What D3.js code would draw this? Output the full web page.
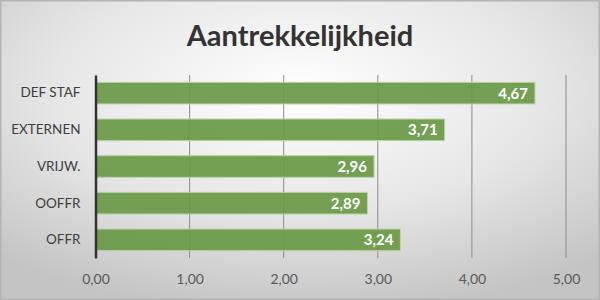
<!DOCTYPE html>
<html>
<head>
<meta charset="utf-8">
<script src="https://cdn.jsdelivr.net/npm/d3@7"></script>
<style>
  body { margin: 0; }
  svg { display: block; }
</style>
</head>
<body>
<div id="chart"></div>
<script>
var categories = ["DEF STAF", "EXTERNEN", "VRIJW.", "OOFFR", "OFFR"];
var values = [4.67, 3.71, 2.96, 2.89, 3.24];
var xTicks = [0, 1, 2, 3, 4, 5];
var title = "Aantrekkelijkheid";

var width = 600, height = 300;
var margin = { top: 75, right: 34, bottom: 42, left: 95.5 };
var font = "Lato, 'Open Sans', sans-serif";

var svg = d3.select("#chart")
    .append("svg")
    .attr("width", width)
    .attr("height", height);

// background: light centre, grey edges
var defs = svg.append("defs");
var grad = defs.append("radialGradient")
    .attr("id", "bg")
    .attr("cx", "50%").attr("cy", "30%")
    .attr("r", "75%");
grad.append("stop").attr("offset", "0%").attr("stop-color", "#ffffff");
grad.append("stop").attr("offset", "55%").attr("stop-color", "#e6e6e6");
grad.append("stop").attr("offset", "100%").attr("stop-color", "#c4c4c4");

svg.append("rect")
    .attr("x", 0.5).attr("y", 0.5)
    .attr("width", width - 1).attr("height", height - 1)
    .attr("fill", "url(#bg)")
    .attr("stroke", "#b4b4b4")
    .attr("stroke-width", 2);

svg.append("text")
    .attr("x", 300)
    .attr("y", 45.5)
    .attr("text-anchor", "middle")
    .attr("font-family", font)
    .attr("font-weight", "bold")
    .attr("font-size", 29)
    .attr("fill", "#333333")
    .text(title);

var x = d3.scaleLinear()
    .domain([0, 5])
    .range([margin.left, width - margin.right]);

var y = d3.scaleBand()
    .domain(categories)
    .range([margin.top, height - margin.bottom])
    .paddingInner(0.41)
    .paddingOuter(0.2);

// vertical gridlines
svg.append("g")
    .selectAll("line")
    .data(xTicks.slice(1))
    .join("line")
    .attr("x1", d => x(d)).attr("x2", d => x(d))
    .attr("y1", margin.top).attr("y2", height - margin.bottom)
    .attr("stroke", "#8c8c8c")
    .attr("stroke-width", 1);

// bars
svg.append("g")
    .selectAll("rect")
    .data(values)
    .join("rect")
    .attr("x", x(0))
    .attr("y", (d, i) => y(categories[i]))
    .attr("width", d => x(d) - x(0))
    .attr("height", y.bandwidth())
    .attr("fill", "#6b9a47")
    .attr("fill-opacity", 0.93)
    .attr("stroke", "#b9d3a6")
    .attr("stroke-width", 1);

// value labels
svg.append("g")
    .selectAll("text")
    .data(values)
    .join("text")
    .attr("x", d => x(d) - 7)
    .attr("y", (d, i) => y(categories[i]) + y.bandwidth() / 2)
    .attr("dy", "0.36em")
    .attr("text-anchor", "end")
    .attr("font-family", font)
    .attr("font-weight", "bold")
    .attr("font-size", 15)
    .attr("fill", "#ffffff")
    .text(d => d3.format(".2f")(d).replace(".", ","));

// x axis labels
var xAxis = g => g
    .attr("transform", `translate(0,${height - margin.bottom})`)
    .call(d3.axisBottom(x).tickValues(xTicks).tickSize(0).tickPadding(16)
        .tickFormat(d => d3.format(".2f")(d).replace(".", ",")))
    .call(g => g.select(".domain").remove())
    .call(g => g.selectAll("text")
        .attr("font-family", font)
        .attr("font-size", 14)
        .attr("fill", "#595959"));

svg.append("g").call(xAxis);

// y axis
var yAxis = g => g
    .attr("transform", `translate(${margin.left},0)`)
    .call(d3.axisLeft(y).tickSize(0).tickPadding(15))
    .call(g => g.select(".domain")
        .attr("stroke", "#333333")
        .attr("stroke-width", 2.5))
    .call(g => g.selectAll("text")
        .attr("font-family", font)
        .attr("font-size", 13.5)
        .attr("fill", "#404040"));

svg.append("g").call(yAxis);
</script>
</body>
</html>
